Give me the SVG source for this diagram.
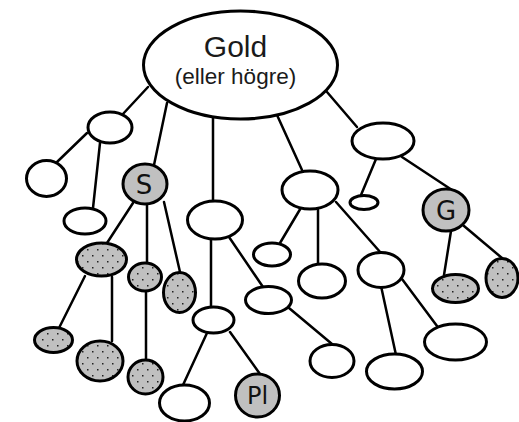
<svg xmlns="http://www.w3.org/2000/svg" width="519" height="422" viewBox="0 0 519 422">
<style>
.n{fill:#fff;stroke:#000;stroke-width:3}
.g{fill:#c0c0c0;stroke:#000;stroke-width:3}
.d{fill:url(#dots);stroke:#000;stroke-width:3}
.e{stroke:#000;stroke-width:2.5;fill:none;stroke-linecap:round}
.t{font-family:"Liberation Sans",Arial,sans-serif;fill:#1a1a1a;text-anchor:middle}
.h{font-family:"DejaVu Sans","Liberation Sans",sans-serif;fill:#111;text-anchor:middle}
</style>
<defs>
<pattern id="dots" width="10" height="12" patternUnits="userSpaceOnUse">
<rect width="10" height="12" fill="#c0c0c0"/>
<rect x="2" y="3" width="1.5" height="1.5" fill="#222"/>
<rect x="7" y="9" width="1.5" height="1.5" fill="#222"/>
</pattern>
</defs>
<g id="connectors">
<line class="e" x1="148" y1="87" x2="122" y2="115"/>
<line class="e" x1="87" y1="133" x2="57" y2="162"/>
<line class="e" x1="100" y1="143" x2="93" y2="208"/>
<line class="e" x1="167" y1="103" x2="154" y2="165"/>
<line class="e" x1="213" y1="118" x2="213" y2="201"/>
<line class="e" x1="277" y1="115" x2="302" y2="170"/>
<line class="e" x1="327" y1="92" x2="357" y2="127"/>
<line class="e" x1="376" y1="159" x2="361" y2="195"/>
<line class="e" x1="402" y1="157" x2="452" y2="190"/>
<line class="e" x1="133" y1="203" x2="107" y2="243"/>
<line class="e" x1="147" y1="205" x2="147" y2="263"/>
<line class="e" x1="164" y1="202" x2="180" y2="272"/>
<line class="e" x1="85" y1="276" x2="59" y2="328"/>
<line class="e" x1="112" y1="277" x2="112" y2="341"/>
<line class="e" x1="146" y1="291" x2="146" y2="360"/>
<line class="e" x1="211" y1="239" x2="211" y2="307"/>
<line class="e" x1="229" y1="237" x2="263" y2="287"/>
<line class="e" x1="207" y1="333" x2="183" y2="385"/>
<line class="e" x1="230" y1="332" x2="260" y2="374"/>
<line class="e" x1="302" y1="206" x2="280" y2="243"/>
<line class="e" x1="318" y1="210" x2="318" y2="264"/>
<line class="e" x1="336" y1="202" x2="381" y2="253"/>
<line class="e" x1="289" y1="308" x2="332" y2="344"/>
<line class="e" x1="381" y1="286" x2="396" y2="355"/>
<line class="e" x1="402" y1="279" x2="437" y2="326"/>
<line class="e" x1="451" y1="231" x2="444" y2="275"/>
<line class="e" x1="464" y1="226" x2="502" y2="258"/>
</g>
<g id="root"><ellipse class="n" cx="240.5" cy="65" rx="97" ry="54"/>
<text class="t" x="235.5" y="57" font-size="30">Gold</text>
<text class="t" x="235.5" y="84" font-size="22.5">(eller högre)</text></g>
<g id="nA"><ellipse class="n" cx="110" cy="127.5" rx="22" ry="15.5"/></g>
<g id="nB"><ellipse class="n" cx="46.5" cy="178.5" rx="20" ry="18"/></g>
<g id="nC"><ellipse class="n" cx="85" cy="221" rx="21" ry="13"/></g>
<g id="nS"><ellipse class="g" cx="145" cy="184" rx="22" ry="20"/>
<text class="h" x="144" y="194" font-size="26">S</text></g>
<g id="nD"><ellipse class="n" cx="215" cy="220" rx="27.5" ry="19"/></g>
<g id="nG"><ellipse class="n" cx="310" cy="190" rx="28" ry="19"/></g>
<g id="nI"><ellipse class="n" cx="383" cy="141" rx="31" ry="18"/></g>
<g id="nJ"><ellipse class="n" cx="364" cy="202.5" rx="14" ry="7"/></g>
<g id="nGg"><ellipse class="g" cx="446" cy="210" rx="23" ry="21"/>
<text class="h" x="446" y="220" font-size="26">G</text></g>
<g id="nK"><ellipse class="d" cx="101.5" cy="259.5" rx="25" ry="16.5"/></g>
<g id="nL"><ellipse class="d" cx="145" cy="277" rx="16.5" ry="14"/></g>
<g id="nM"><ellipse class="d" cx="179.5" cy="292.5" rx="16" ry="20"/></g>
<g id="nN"><ellipse class="d" cx="53.5" cy="340" rx="19" ry="12.5"/></g>
<g id="nO"><ellipse class="d" cx="100" cy="361" rx="23" ry="20"/></g>
<g id="nP"><ellipse class="d" cx="145.5" cy="377" rx="17.5" ry="17"/></g>
<g id="nF"><ellipse class="n" cx="272" cy="254.5" rx="18.5" ry="11.5"/></g>
<g id="nH"><ellipse class="n" cx="322" cy="281" rx="23.5" ry="17"/></g>
<g id="nE"><ellipse class="n" cx="268.5" cy="300" rx="23" ry="13.5"/></g>
<g id="nQ"><ellipse class="n" cx="213.5" cy="320" rx="20.5" ry="13"/></g>
<g id="nR"><ellipse class="n" cx="184.5" cy="403" rx="25" ry="18"/></g>
<g id="nPl"><ellipse class="g" cx="257.5" cy="395.5" rx="22" ry="21.5"/>
<text class="h" x="257.5" y="404" font-size="24">Pl</text></g>
<g id="nT"><ellipse class="n" cx="381" cy="270" rx="23" ry="17.5"/></g>
<g id="nU"><ellipse class="n" cx="332" cy="361" rx="22" ry="16.5"/></g>
<g id="nV"><ellipse class="n" cx="394.5" cy="371.5" rx="28" ry="17.5"/></g>
<g id="nW"><ellipse class="n" cx="455.5" cy="342" rx="31" ry="18"/></g>
<g id="nX"><ellipse class="d" cx="455.5" cy="288.5" rx="23" ry="14"/></g>
<g id="nY"><ellipse class="d" cx="502" cy="278" rx="16" ry="19.5"/></g>
</svg>
